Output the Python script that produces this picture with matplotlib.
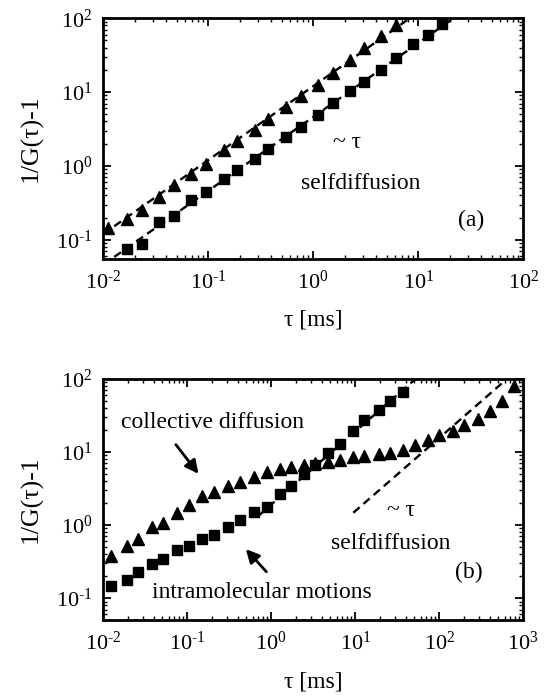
import numpy as np
import matplotlib
matplotlib.use("Agg")
import matplotlib.pyplot as plt
from matplotlib.ticker import FuncFormatter

plt.rcParams["font.family"] = ["Liberation Serif", "DejaVu Serif"]
plt.rcParams["mathtext.fontset"] = "custom"
plt.rcParams["mathtext.rm"] = "Liberation Serif"
plt.rcParams["mathtext.it"] = "Liberation Serif:italic"
plt.rcParams["mathtext.bf"] = "Liberation Serif:bold"

# panel (a)
tau_a = [0.0112, 0.0168, 0.0232, 0.034, 0.047, 0.068, 0.095, 0.14, 0.19, 0.28,
         0.375, 0.55, 0.76, 1.1, 1.54, 2.26, 3.07, 4.4, 6.2, 8.9, 12.3, 16.8]
triangulos_a = [0.143, 0.191, 0.257, 0.381, 0.552, 0.767, 1.05, 1.62, 2.15, 3.11,
                4.28, 6.2, 8.9, 12.5, 18.1, 26.8, 39.0, 58.0, 82.0]
cuadrados_a = [0.076, 0.089, 0.177, 0.208, 0.343, 0.438, 0.668, 0.871, 1.26, 1.68,
               2.44, 3.35, 4.84, 7.1, 10.3, 13.6, 20.0, 29.0, 45.0, 60.0, 83.0]

# panel (b)
tau_b = [0.0125, 0.019, 0.026, 0.038, 0.051, 0.075, 0.104, 0.152, 0.21, 0.31,
         0.42, 0.62, 0.90, 1.28, 1.70, 2.45, 3.3, 4.8, 6.6, 9.5,
         12.8, 19.0, 26.0, 37.0, 51.0, 73.0, 100.0, 145.0, 200.0, 290.0,
         400.0, 560.0, 770.0]
triangulos_b = [0.38, 0.51, 0.65, 0.93, 1.08, 1.48, 1.85, 2.5, 2.8, 3.45,
                3.85, 4.5, 5.3, 5.8, 6.2, 6.7, 7.0, 7.3, 7.8, 8.4,
                8.8, 9.3, 9.8, 10.6, 12.6, 14.5, 16.8, 19.5, 23.0, 28.0,
                36.0, 50.0, 80.0]
cuadrados_b = [0.149, 0.178, 0.227, 0.296, 0.347, 0.452, 0.519, 0.641, 0.728, 0.948,
               1.17, 1.53, 1.79, 2.65, 3.38, 5.0, 6.6, 9.6, 13.0, 19.5,
               27.0, 37.0, 50.0, 65.0]

# rectas ~ tau: (prefactor, tau inicial, tau final)
rectas_a = [(12.0, 0.01, 10.0), (4.6, 0.01, 30.0)]
rectas_b = [(1.9, 0.7, 60.0), (0.155, 9.5, 700.0)]

FS_TEXTO = 17
FS_TICKS = 16


def _potencia(valor, pos):
    exp = int(round(np.log10(valor)))
    return r"$10^{\text{%d}}$" % exp


def _estilo_eje(eje, xlim, ylim):
    eje.set_xscale("log")
    eje.set_yscale("log")
    eje.set_xlim(*xlim)
    eje.set_ylim(*ylim)
    eje.xaxis.set_major_formatter(FuncFormatter(_potencia))
    eje.yaxis.set_major_formatter(FuncFormatter(_potencia))
    eje.tick_params(which="both", direction="in", top=True, right=True,
                    labelsize=FS_TICKS)
    eje.tick_params(which="major", length=6, width=1.3, pad=8)
    eje.tick_params(which="minor", length=3, width=1.0)
    for spine in eje.spines.values():
        spine.set_linewidth(2)
    eje.set_xlabel("τ [ms]", fontsize=FS_TEXTO, labelpad=12)
    eje.set_ylabel("1/G(τ)-1", fontsize=18.5, labelpad=9)


def _rectas(eje, rectas):
    for pref, t0, t1 in rectas:
        t = np.logspace(np.log10(t0), np.log10(t1), 60)
        eje.plot(t, pref * t, color="black", linestyle=(0, (3.5, 2.2)), lw=1.7, zorder=1)


fig = plt.figure(figsize=(5.49, 7.0), dpi=100)

eje_a = fig.add_axes([0.188, 0.63, 0.765, 0.344])
_rectas(eje_a, rectas_a)
eje_a.plot(tau_a[:len(triangulos_a)], triangulos_a, "k^", ms=9, ls="none", zorder=3)
eje_a.plot(tau_a[1:1 + len(cuadrados_a)], cuadrados_a, "ks", ms=7.5, ls="none", zorder=3)
_estilo_eje(eje_a, (1e-2, 1e2), (0.055, 100))
eje_a.text(0.58, 0.485, "~ τ", transform=eje_a.transAxes, fontsize=FS_TEXTO,
           ha="center", va="center")
eje_a.text(0.613, 0.313, "selfdiffusion", transform=eje_a.transAxes, fontsize=FS_TEXTO,
           ha="center", va="center")
eje_a.text(0.875, 0.162, "(a)", transform=eje_a.transAxes, fontsize=FS_TEXTO,
           ha="center", va="center")

eje_b = fig.add_axes([0.188, 0.114, 0.765, 0.345])
_rectas(eje_b, rectas_b)
eje_b.plot(tau_b[:len(triangulos_b)], triangulos_b, "k^", ms=9, ls="none", zorder=3)
eje_b.plot(tau_b[:len(cuadrados_b)], cuadrados_b, "ks", ms=7.5, ls="none", zorder=3)
_estilo_eje(eje_b, (1e-2, 1e3), (0.05, 100))
flecha = dict(arrowstyle="-|>", color="black", lw=2, mutation_scale=20)
eje_b.annotate("", xy=(0.231, 0.597), xytext=(0.169, 0.736),
               xycoords="axes fraction", arrowprops=flecha)
eje_b.annotate("", xy=(0.335, 0.303), xytext=(0.393, 0.192),
               xycoords="axes fraction", arrowprops=flecha)
eje_b.text(0.042, 0.817, "collective diffusion", transform=eje_b.transAxes,
           fontsize=FS_TEXTO, ha="left", va="center")
eje_b.text(0.115, 0.115, "intramolecular motions", transform=eje_b.transAxes,
           fontsize=FS_TEXTO, ha="left", va="center")
eje_b.text(0.709, 0.456, "~ τ", transform=eje_b.transAxes, fontsize=FS_TEXTO,
           ha="center", va="center")
eje_b.text(0.684, 0.319, "selfdiffusion", transform=eje_b.transAxes, fontsize=FS_TEXTO,
           ha="center", va="center")
eje_b.text(0.871, 0.199, "(b)", transform=eje_b.transAxes, fontsize=FS_TEXTO,
           ha="center", va="center")

fig.savefig("out.png", dpi=100)
